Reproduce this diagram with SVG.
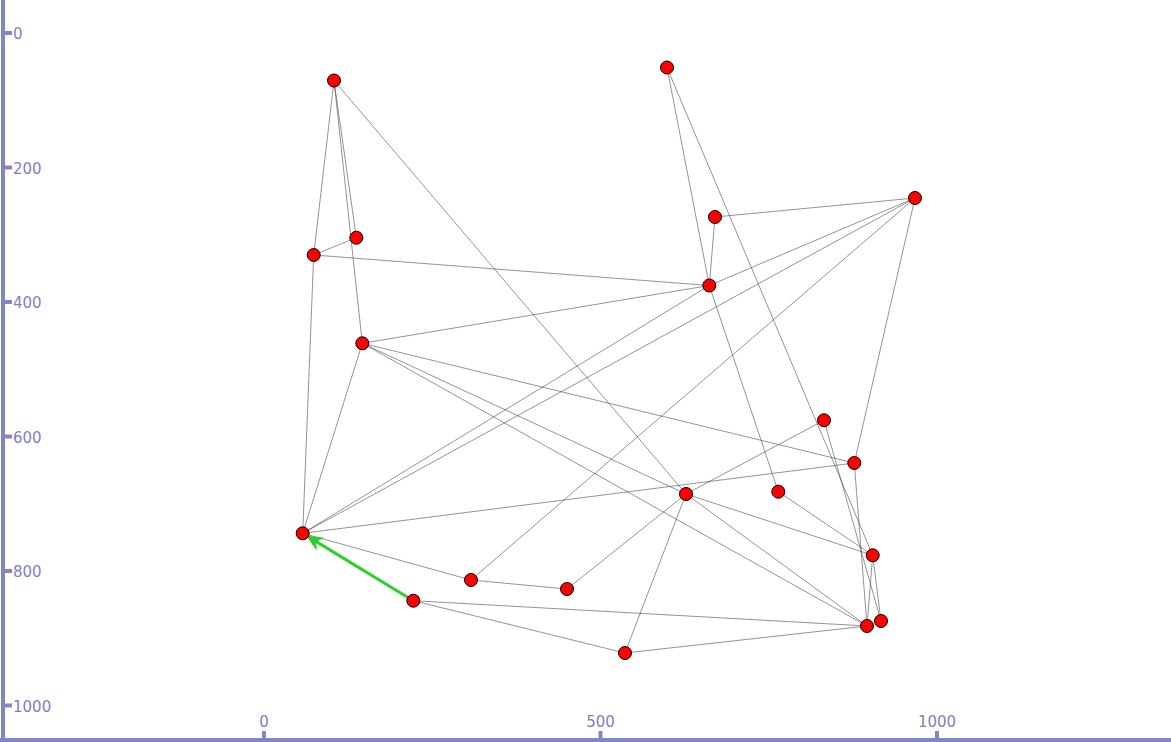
<svg xmlns="http://www.w3.org/2000/svg" width="1171" height="742" viewBox="0 0 1171 742">
<style>
.axis{stroke:#8585c4;stroke-width:4;fill:none}
.tick{stroke:#8585c4;stroke-width:4}
.lbl{fill:#8080c0;font-family:"DejaVu Sans",sans-serif;font-size:15px}
.e{stroke:#3a3a3a;stroke-width:0.55;fill:none}
.n{fill:#ff0000;stroke:#000;stroke-width:1}
.arr{stroke:#33cc33;stroke-width:3;fill:none}
</style>
<defs>
<marker id="ah" markerUnits="userSpaceOnUse" viewBox="-18 -9 19 18" markerWidth="19" markerHeight="18" refX="-10" refY="0" orient="auto">
<path d="M0,0 L-17,-7.5 L-12,0 L-17,7.5 Z" fill="#33cc33"/>
</marker>
</defs>
<rect width="1171" height="742" fill="#fff"/>
<g id="axes">
<line class="axis" x1="3" y1="0" x2="3" y2="742"/>
<line class="axis" x1="0" y1="740" x2="1171" y2="740"/>
<line class="tick" x1="4" y1="33" x2="12" y2="33"/>
<line class="tick" x1="4" y1="167.5" x2="12" y2="167.5"/>
<line class="tick" x1="4" y1="302" x2="12" y2="302"/>
<line class="tick" x1="4" y1="436.5" x2="12" y2="436.5"/>
<line class="tick" x1="4" y1="571" x2="12" y2="571"/>
<line class="tick" x1="4" y1="705.5" x2="12" y2="705.5"/>
<text class="lbl" x="13" y="39">0</text>
<text class="lbl" x="13" y="173.5">200</text>
<text class="lbl" x="13" y="308">400</text>
<text class="lbl" x="13" y="442.5">600</text>
<text class="lbl" x="13" y="577">800</text>
<text class="lbl" x="13" y="711.5">1000</text>
<line class="tick" x1="264" y1="731" x2="264" y2="739"/>
<line class="tick" x1="600.5" y1="731" x2="600.5" y2="739"/>
<line class="tick" x1="937" y1="731" x2="937" y2="739"/>
<text class="lbl" x="264" y="727" text-anchor="middle">0</text>
<text class="lbl" x="600.5" y="727" text-anchor="middle">500</text>
<text class="lbl" x="937" y="727" text-anchor="middle">1000</text>
</g>
<g id="connectors">
<line class="e" x1="334" y1="80.5" x2="356.3" y2="237.7"/>
<line class="e" x1="334" y1="80.5" x2="313.7" y2="255"/>
<line class="e" x1="334" y1="80.5" x2="362.3" y2="343.3"/>
<line class="e" x1="334" y1="80.5" x2="686" y2="494"/>
<line class="e" x1="356.3" y1="237.7" x2="313.7" y2="255"/>
<line class="e" x1="313.7" y1="255" x2="709.3" y2="285.5"/>
<line class="e" x1="313.7" y1="255" x2="302.7" y2="533.3"/>
<line class="e" x1="667" y1="67.5" x2="709.3" y2="285.5"/>
<line class="e" x1="667" y1="67.5" x2="872.7" y2="555.3"/>
<line class="e" x1="715" y1="217" x2="915" y2="198"/>
<line class="e" x1="715" y1="217" x2="709.3" y2="285.5"/>
<line class="e" x1="709.3" y1="285.5" x2="915" y2="198"/>
<line class="e" x1="709.3" y1="285.5" x2="362.3" y2="343.3"/>
<line class="e" x1="709.3" y1="285.5" x2="302.7" y2="533.3"/>
<line class="e" x1="709.3" y1="285.5" x2="778.3" y2="491.7"/>
<line class="e" x1="915" y1="198" x2="302.7" y2="533.3"/>
<line class="e" x1="915" y1="198" x2="471" y2="580"/>
<line class="e" x1="915" y1="198" x2="854.3" y2="463"/>
<line class="e" x1="362.3" y1="343.3" x2="302.7" y2="533.3"/>
<line class="e" x1="362.3" y1="343.3" x2="854.3" y2="463"/>
<line class="e" x1="362.3" y1="343.3" x2="686" y2="494"/>
<line class="e" x1="362.3" y1="343.3" x2="867" y2="626"/>
<line class="e" x1="302.7" y1="533.3" x2="854.3" y2="463"/>
<line class="e" x1="302.7" y1="533.3" x2="471" y2="580"/>
<line class="e" x1="471" y1="580" x2="567" y2="589"/>
<line class="e" x1="567" y1="589" x2="686" y2="494"/>
<line class="e" x1="686" y1="494" x2="824" y2="420.3"/>
<line class="e" x1="686" y1="494" x2="625" y2="653"/>
<line class="e" x1="686" y1="494" x2="872.7" y2="555.3"/>
<line class="e" x1="686" y1="494" x2="867" y2="626"/>
<line class="e" x1="778.3" y1="491.7" x2="872.7" y2="555.3"/>
<line class="e" x1="824" y1="420.3" x2="881" y2="621"/>
<line class="e" x1="854.3" y1="463" x2="867" y2="626"/>
<line class="e" x1="872.7" y1="555.3" x2="867" y2="626"/>
<line class="e" x1="872.7" y1="555.3" x2="881" y2="621"/>
<line class="e" x1="413.3" y1="600.7" x2="867" y2="626"/>
<line class="e" x1="413.3" y1="600.7" x2="625" y2="653"/>
<line class="e" x1="625" y1="653" x2="867" y2="626"/>
<line class="arr" x1="413.3" y1="600.7" x2="314.6" y2="540.6" marker-end="url(#ah)"/>
</g>
<g id="nodes">
<circle id="nA" class="n" cx="334" cy="80.5" r="6.5"/>
<circle id="nB" class="n" cx="667" cy="67.5" r="6.5"/>
<circle id="nC" class="n" cx="915" cy="198" r="6.5"/>
<circle id="nD" class="n" cx="715" cy="217" r="6.5"/>
<circle id="nE" class="n" cx="356.3" cy="237.7" r="6.5"/>
<circle id="nF" class="n" cx="313.7" cy="255" r="6.5"/>
<circle id="nG" class="n" cx="709.3" cy="285.5" r="6.5"/>
<circle id="nH" class="n" cx="362.3" cy="343.3" r="6.5"/>
<circle id="nI" class="n" cx="824" cy="420.3" r="6.5"/>
<circle id="nJ" class="n" cx="854.3" cy="463" r="6.5"/>
<circle id="nK" class="n" cx="686" cy="494" r="6.5"/>
<circle id="nL" class="n" cx="778.3" cy="491.7" r="6.5"/>
<circle id="nM" class="n" cx="302.7" cy="533.3" r="6.5"/>
<circle id="nN" class="n" cx="872.7" cy="555.3" r="6.5"/>
<circle id="nO" class="n" cx="471" cy="580" r="6.5"/>
<circle id="nP" class="n" cx="567" cy="589" r="6.5"/>
<circle id="nQ" class="n" cx="413.3" cy="600.7" r="6.5"/>
<circle id="nR" class="n" cx="867" cy="626" r="6.5"/>
<circle id="nS" class="n" cx="881" cy="621" r="6.5"/>
<circle id="nT" class="n" cx="625" cy="653" r="6.5"/>
</g>
</svg>
